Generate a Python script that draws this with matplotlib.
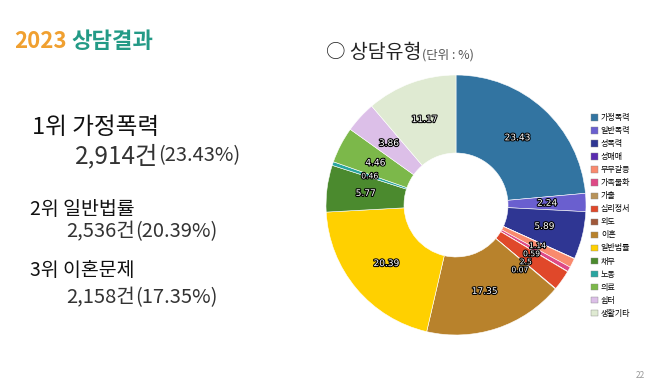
import matplotlib
matplotlib.use('Agg')
from matplotlib import pyplot as plt
import matplotlib.patheffects as pe
import numpy as np

plt.rcParams['font.family'] = ['Noto Sans CJK KR', 'DejaVu Sans']

# 상담유형 (단위 : %)
CATEGORIES = ['가정폭력', '일반폭력', '성폭력', '성매매', '부부갈등', '가족불화', '가출',
              '심리정서', '외도', '이혼', '일반법률', '채무', '노동', '의료', '쉼터', '생활기타']
VALUES = [23.43, 2.24, 5.89, 0.05, 1.14, 0.59, 0.05,
          2.5, 0.07, 17.35, 20.39, 5.77, 0.46, 4.46, 3.86, 11.17]
COLORS = ['#3274a1', '#6a5fcf', '#2f3693', '#5a2bb0', '#f98a6e', '#de4a86', '#b8935a',
          '#e0482a', '#a0583a', '#b8822c', '#ffd000', '#4b8a2e', '#2aa5a0', '#7cb84a',
          '#dcbfe8', '#dfead2']

TOP3_NAMES = ['1위 가정폭력', '2위 일반법률', '3위 이혼문제']
TOP3_COUNTS = ['2,914건', '2,536건', '2,158건']
TOP3_PCTS = ['(23.43%)', '(20.39%)', '(17.35%)']

W, H = 658, 385
fig = plt.figure(figsize=(W / 100, H / 100), dpi=100)


def fx(px):
    return px / W


def fy(py):
    return 1 - py / H


def after(txt, gap=0):
    # x position (fig coords) right after a drawn text
    fig.canvas.draw()
    return (txt.get_window_extent().x1 + gap) / W


# title
t = fig.text(fx(14), fy(42), '2023', color='#f0a030', fontsize=16, fontweight='bold', va='center')
fig.text(after(t, 5), fy(42), '상담결과', color='#239a86', fontsize=16, fontweight='bold', va='center')

# top 3 block
name_y = [127, 210, 270]
cnt_y = [156, 232, 298]
name_x = [32, 30, 30]
cnt_x = [75, 66, 66]
name_fs = [17, 14, 14]
cnt_fs = [17.5, 14.5, 14.5]
pct_fs = [14.5, 14.5, 14.5]
for i in range(3):
    fig.text(fx(name_x[i]), fy(name_y[i]), TOP3_NAMES[i], fontsize=name_fs[i], color='#111111',
             va='center', fontweight='light')
    tt = fig.text(fx(cnt_x[i]), fy(cnt_y[i]), TOP3_COUNTS[i], fontsize=cnt_fs[i], color='#333333',
                  va='center', fontweight='light')
    fig.text(after(tt), fy(cnt_y[i]), TOP3_PCTS[i], fontsize=pct_fs[i],
             color='#333333', va='center', fontweight='light')

# pie heading
h = fig.text(fx(326), fy(53), '○ 상담유형', fontsize=14, color='#222222', va='center')
fig.text(after(h, 1), fy(55), '(단위 : %)', fontsize=9, color='#555555', va='center')

# page number
fig.text(fx(645), fy(375), '22', fontsize=6, color='#999999', ha='right', va='center')

# donut
cx, cy, r = 456, 205, 130
ax = fig.add_axes([fx(cx - r), fy(cy + r), 2 * r / W, 2 * r / H])
wedges, _ = ax.pie(VALUES, colors=COLORS, startangle=90, counterclock=False, radius=1,
                   wedgeprops=dict(width=0.6, edgecolor='white', linewidth=0.4))
ax.set_xlim(-1, 1)
ax.set_ylim(-1, 1)
ax.set_aspect('equal')
ax.axis('off')

prev = None  # last label position within a run of crowded slices
for w, v in zip(wedges, VALUES):
    if v < 0.06:
        continue
    ang = np.deg2rad((w.theta1 + w.theta2) / 2)
    lx, ly = 0.7 * np.cos(ang), 0.7 * np.sin(ang)
    crowded = v < 2 or (prev is not None and v < 3)
    if crowded:
        if prev is not None:
            # stack crowded labels down-left like the original
            lx, ly = prev[0] - 0.045, prev[1] - 0.062
        prev = (lx, ly)
    else:
        prev = None
    ax.text(lx, ly, '%g' % v, ha='center', va='center',
            fontsize=5.5 if crowded else 6.5, color='white',
            family=['DejaVu Sans'],
            path_effects=[pe.withStroke(linewidth=1.5, foreground='black')])

handles = [plt.Rectangle((0, 0), 1, 1, facecolor=c, edgecolor='#888888', linewidth=0.3) for c in COLORS]
fig.legend(handles, CATEGORIES, loc='upper left', bbox_to_anchor=(fx(588), fy(110)),
           frameon=False, fontsize=5.8, handlelength=0.8, handleheight=0.8,
           handletextpad=0.4, labelspacing=0.5, borderaxespad=0)

fig.savefig('out.png', dpi=100)
